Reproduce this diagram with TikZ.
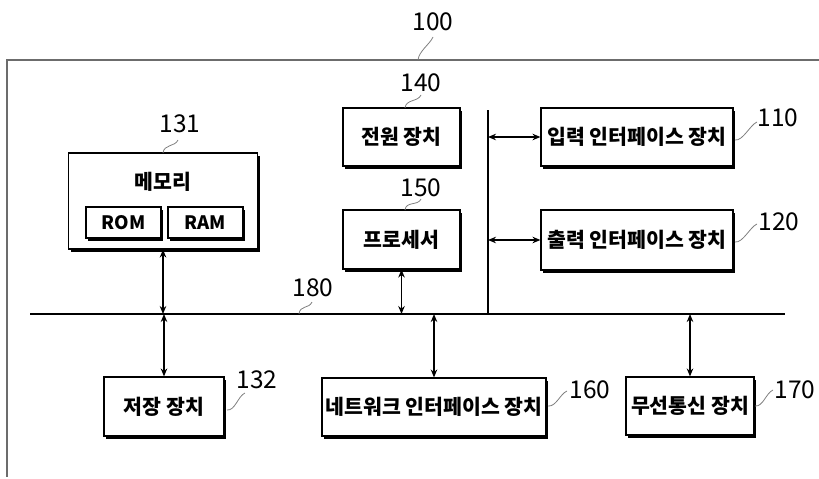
\documentclass[tikz,border=0pt]{standalone}
\usepackage{fontspec}
\setmainfont{Noto Sans CJK KR}
\usetikzlibrary{shadows,arrows.meta}
\begin{document}
\begin{tikzpicture}[x=1pt,y=-1pt,
  box/.style={draw=black,line width=1.1pt,fill=white,inner sep=0pt,
    font=\bfseries\fontsize{20.5}{24}\selectfont,
    drop shadow={shadow xshift=2.4pt,shadow yshift=-2.6pt,fill=black,opacity=1}},
  small/.style={font=\bfseries\fontsize{18.5}{21}\selectfont},
  num/.style={font=\fontsize{24.5}{28}\selectfont,inner sep=0pt},
  lead/.style={draw=gray,line width=0.8pt},
  link/.style={line width=1.4pt,{Stealth[length=8pt,width=6.5pt]}-{Stealth[length=8pt,width=6.5pt]}},
  busline/.style={line width=2.4pt}]
\useasboundingbox (0,0) rectangle (819,479);
% outer frame
\draw[gray!85!black,line width=1.8pt] (819,60) -- (7,60) -- (7,477);
% bus
\coordinate (busL) at (30,314);
\coordinate (busR) at (785,314);
\draw[busline] (busL) -- (busR);
\coordinate (vtop) at (488,110);
\draw[line width=1.8pt] (vtop) -- (vtop |- busL);
% boxes
\node[box,minimum width=189pt,minimum height=96pt] (mem) at (163,201) {};
\node[font=\bfseries\fontsize{20.5}{24}\selectfont,inner sep=0pt] (memt) at (163,182) {메모리};
\node[box,small,minimum width=75pt,minimum height=31pt] (rom) at (123.5,222.5) {ROM};
\node[box,small,minimum width=75pt,minimum height=31pt] (ram) at (205.5,222.5) {RAM};
\node[box,minimum width=117pt,minimum height=58pt] (pwr) at (401.5,137) {전원 장치};
\node[box,minimum width=117pt,minimum height=59pt] (proc) at (401.5,239.5) {프로세서};
\node[box,minimum width=192pt,minimum height=58pt] (in) at (637,137) {입력 인터페이스 장치};
\node[box,minimum width=192pt,minimum height=60pt] (out) at (637,240) {출력 인터페이스 장치};
\node[box,minimum width=120pt,minimum height=59pt] (sto) at (164,406.5) {저장 장치};
\node[box,minimum width=224pt,minimum height=58pt] (net) at (434,407) {네트워크 인터페이스 장치};
\node[box,minimum width=128pt,minimum height=58pt] (wls) at (690,406) {무선통신 장치};
% connectors
\draw[link] (mem.south) -- (mem.south |- busL);
\draw[link] (proc.south) -- (proc.south |- busL);
\draw[link] (in.west -| vtop) -- (in.west);
\draw[link] (out.west -| vtop) -- (out.west);
\draw[link] (busL -| sto.north) -- (sto.north);
\draw[link] (busL -| net.north) -- (net.north);
\draw[link] (busL -| wls.north) -- (wls.north);
% reference numerals
\node[num] (n100) at (433,22) {100};
\node[num] (n140) at (421,83) {140};
\node[num] (n131) at (180,124) {131};
\node[num] (n150) at (421,188) {150};
\node[num] (n180) at (313,288) {180};
\node[num] (n110) at (778,118) {110};
\node[num] (n120) at (779,222) {120};
\node[num] (n132) at (257,380) {132};
\node[num] (n160) at (590,390) {160};
\node[num] (n170) at (795,390) {170};
% leader lines
\coordinate (p100) at (418,60);  \coordinate (q100) at (433,37);
\coordinate (p140) at (405,108); \coordinate (q140) at (421,95);
\coordinate (p131) at (163,153); \coordinate (q131) at (178,140);
\coordinate (p150) at (405,210); \coordinate (q150) at (421,199);
\coordinate (p180) at (299,314); \coordinate (q180) at (312,302);
\coordinate (p110) at (735,140); \coordinate (q110) at (757,122);
\coordinate (p120) at (735,242); \coordinate (q120) at (757,224);
\coordinate (p132) at (227,410); \coordinate (q132) at (245,393);
\coordinate (p160) at (548,406); \coordinate (q160) at (567,391);
\coordinate (p170) at (755,406); \coordinate (q170) at (773,390);
\foreach \k in {100,140,131,150,180}{
  \draw[lead] (p\k) .. controls +(1,-9) and +(-3,7) .. (q\k);
}
\foreach \k in {110,120,132,160,170}{
  \draw[lead] (p\k) .. controls +(8,1) and +(-7,3) .. (q\k);
}
\end{tikzpicture}
\end{document}
